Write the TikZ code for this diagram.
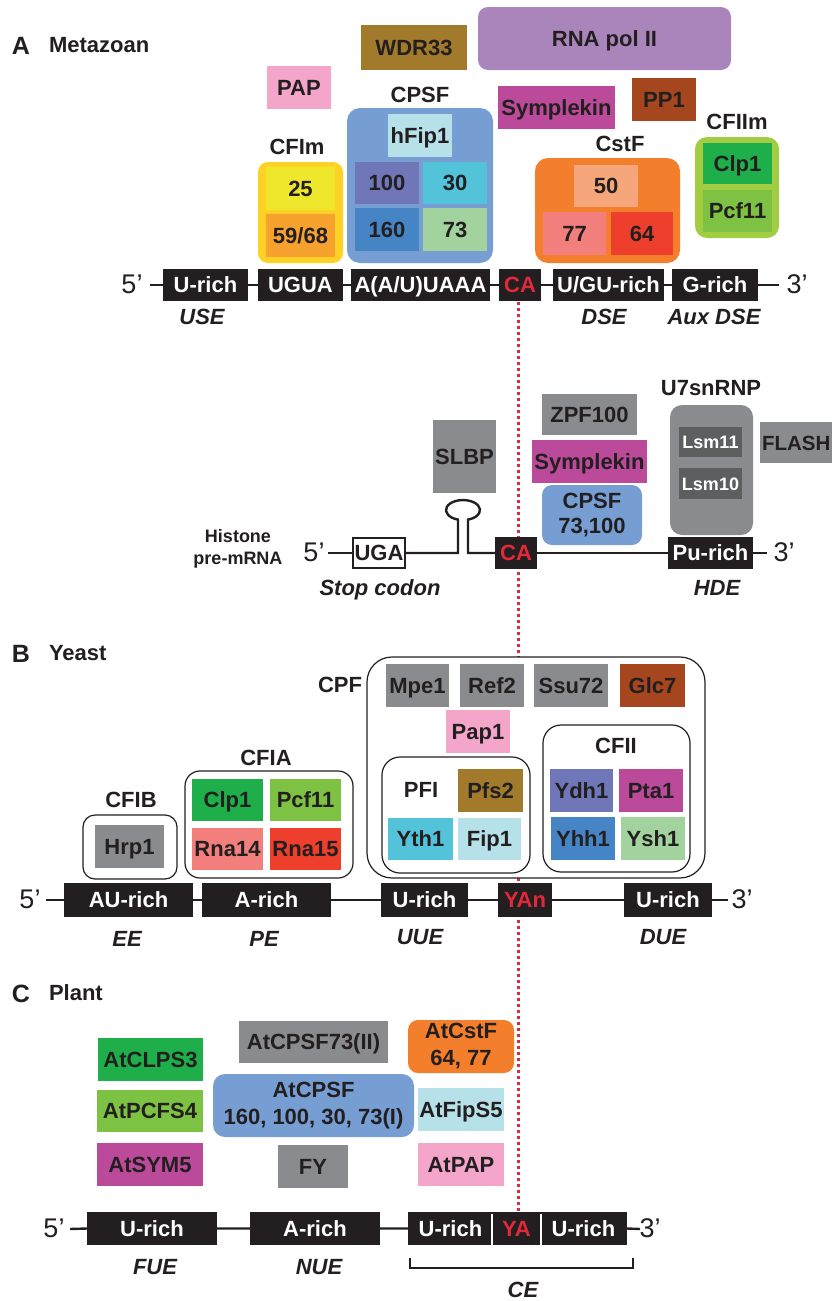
\documentclass[tikz,border=0pt]{standalone}
\usepackage{fontspec}
\setmainfont{Liberation Sans}
\definecolor{ink}{HTML}{231F20}
\definecolor{cRed}{HTML}{E2283A}
\definecolor{cGray}{HTML}{8A8B8E}
\definecolor{cDGray}{HTML}{5D5E60}
\definecolor{cWDR}{HTML}{A27A2C}
\definecolor{cPol}{HTML}{AA85BB}
\definecolor{cPAP}{HTML}{F4A6CA}
\definecolor{cSym}{HTML}{BB4A9A}
\definecolor{cPP}{HTML}{A5461F}
\definecolor{cBlue}{HTML}{769ED3}
\definecolor{cFip}{HTML}{B7E1E8}
\definecolor{cHund}{HTML}{7077B9}
\definecolor{cThirty}{HTML}{53C3D9}
\definecolor{cOneSixty}{HTML}{4585C6}
\definecolor{cSeventy}{HTML}{A2D39E}
\definecolor{cYel}{HTML}{FDD125}
\definecolor{cTwentyFive}{HTML}{EEE72B}
\definecolor{cFiftyNine}{HTML}{F7A12F}
\definecolor{cOr}{HTML}{F37F2C}
\definecolor{cFifty}{HTML}{F5A67B}
\definecolor{cSalmon}{HTML}{F27F7B}
\definecolor{cRedBox}{HTML}{EE3F2C}
\definecolor{cLime}{HTML}{A2CD42}
\definecolor{cClp}{HTML}{1EAF4B}
\definecolor{cPcf}{HTML}{7EC243}
\newcommand\mybox[7]{%
  \pgfmathsetmacro\mbw{#4-#2}\pgfmathsetmacro\mbh{#5-#3}%
  \node[#6,minimum width=\mbw pt,minimum height=\mbh pt] (#1) at ({(#2+#4)/2},{(#3+#5)/2}) {#7};}
\begin{document}
\begin{tikzpicture}[x=1pt,y=-1pt,
  base/.style={font=\bfseries\fontsize{22}{25}\selectfont,text=ink,inner sep=0pt,outer sep=0pt},
  capt/.style={base,text height=15.5pt,text depth=0pt},
  bx/.style={capt,rectangle},
  small/.style={font=\bfseries\fontsize{18}{22}\selectfont},
  sq/.style={bx,fill=ink,text=white},
  cont/.style={rectangle,inner sep=0pt,outer sep=0pt},
  frame/.style={cont,fill=white,draw=ink,line width=1.2pt},
  itl/.style={capt,font=\bfseries\itshape\fontsize{22}{25}\selectfont},
  prime/.style={font=\fontsize{27}{30}\selectfont,text=ink,inner sep=0pt,text height=19.5pt,text depth=0pt},
  head/.style={capt,anchor=west},
  letter/.style={capt,anchor=west,font=\bfseries\fontsize{25}{28}\selectfont,text height=18pt},
  seq/.style={draw=ink,line width=2.4pt},
  reddot/.style={draw=cRed,line width=3pt,dash pattern=on 3pt off 3pt},
  sep/.style={draw=white,line width=1.6pt}]
\useasboundingbox (0,0) rectangle (832,1301);
\clip (0,0) rectangle (832,1301);
\fill[white] (0,0) rectangle (832,1301);

% red dotted cleavage line
\coordinate (dtop) at (518,302);
\coordinate (dbot) at (518,1212);
\draw[reddot] (dtop) -- (dbot);

% ================= A Metazoan =================
\node[letter] (lA) at (12,45) {A};
\node[head] (hA) at (49,45) {Metazoan};

\mybox{wdr}{361}{25}{467}{70}{bx,fill=cWDR}{WDR33}
\mybox{pol}{478}{7}{731}{70}{bx,fill=cPol,rounded corners=10pt}{RNA pol II}
\mybox{pap}{267}{66}{331}{109}{bx,fill=cPAP}{PAP}
\mybox{symA}{498}{86}{615}{129}{bx,fill=cSym}{Symplekin}
\mybox{pp}{632}{78}{696}{121}{bx,fill=cPP}{PP1}

\node[capt] (cpsfl) at (420,95) {CPSF};
\mybox{cpsf}{347}{108}{493}{263}{cont,fill=cBlue,rounded corners=13pt}{}
\mybox{hfip}{388}{114}{452}{157}{bx,fill=cFip}{hFip1}
\mybox{cA}{355}{162}{419}{204}{bx,fill=cHund}{100}
\mybox{cB}{423}{162}{487}{204}{bx,fill=cThirty}{30}
\mybox{cC}{355}{208}{419}{251}{bx,fill=cOneSixty}{160}
\mybox{cD}{423}{208}{487}{251}{bx,fill=cSeventy}{73}

\node[capt] (cfiml) at (297,147) {CFIm};
\mybox{cfim}{258}{162}{343}{263}{cont,fill=cYel,rounded corners=10pt}{}
\mybox{cE}{266}{167}{335}{210}{bx,fill=cTwentyFive}{25}
\mybox{cF}{266}{214}{335}{257}{bx,fill=cFiftyNine}{59/68}

\node[capt] (cstfl) at (620,144) {CstF};
\mybox{cstf}{535}{158}{680}{263}{cont,fill=cOr,rounded corners=13pt}{}
\mybox{cG}{574}{165}{638}{207}{bx,fill=cFifty}{50}
\mybox{cH}{543}{212}{606}{255}{bx,fill=cSalmon}{77}
\mybox{cI}{611}{212}{673}{255}{bx,fill=cRedBox}{64}

\node[capt] (cfiiml) at (737,122) {CFIIm};
\mybox{cfiim}{695}{137}{779}{238}{cont,fill=cLime,rounded corners=12pt}{}
\mybox{clpA}{703}{143}{772}{184}{bx,fill=cClp}{Clp1}
\mybox{pcfA}{703}{190}{772}{232}{bx,fill=cPcf}{Pcf11}

\node[prime] (a5) at (132,284) {5’};
\node[prime] (a3) at (797,284) {3’};
\coordinate (a5e) at (150,285);
\coordinate (a3e) at (779,285);
\mybox{aU}{163}{269}{248}{301}{sq}{U-rich}
\mybox{aUGUA}{258}{269}{343}{301}{sq}{UGUA}
\mybox{aAAU}{351}{269}{490}{301}{sq}{A(A/U)UAAA}
\mybox{aCA}{499}{269}{541}{301}{sq,text=cRed}{CA}
\mybox{aUGU}{553}{269}{664}{301}{sq}{U/GU-rich}
\mybox{aG}{672}{269}{758}{301}{sq}{G-rich}
\draw[seq] (a5e) -- (aU.west) (aU.east) -- (aUGUA.west) (aUGUA.east) -- (aAAU.west)
  (aAAU.east) -- (aCA.west) (aCA.east) -- (aUGU.west) (aUGU.east) -- (aG.west) (aG.east) -- (a3e);
\node[itl] (use) at (202,317) {USE};
\node[itl] (dse) at (604,317) {DSE};
\node[itl] (adse) at (714,317) {Aux DSE};

% ================= Histone =================
\node[capt] (u7l) at (711,388) {U7snRNP};
\mybox{zpf}{542}{394}{637}{435}{bx,fill=cGray}{ZPF100}
\mybox{symH}{532}{440}{647}{483}{bx,fill=cSym}{Symplekin}
\mybox{cpsfH}{542}{485}{642}{545}{base,fill=cBlue,rounded corners=10pt,align=center,font=\bfseries\fontsize{22}{25}\selectfont}{CPSF\\73,100}
\mybox{slbp}{433}{420}{496}{493}{bx,fill=cGray}{SLBP}
\mybox{u7}{670}{405}{753}{535}{cont,fill=cGray,rounded corners=12pt}{}
\mybox{lsmA}{679}{427}{742}{457}{bx,small,fill=cDGray,text=white,text height=13pt}{Lsm11}
\mybox{lsmB}{679}{468}{742}{499}{bx,small,fill=cDGray,text=white,text height=13pt}{Lsm10}
\mybox{flash}{760}{422}{840}{463}{cont,fill=cGray}{}
\node[capt,anchor=west,font=\bfseries\fontsize{20.5}{24}\selectfont] (flasht) at (762,442.5) {FLASH};

\node[base,small,align=center] (hist) at (238,549) {Histone\\pre-mRNA};
\node[prime] (h5) at (314,552) {5’};
\node[prime] (h3) at (784,552) {3’};
\coordinate (h5e) at (328,553);
\coordinate (h3e) at (767,553);
\mybox{uga}{353}{538}{405}{568}{bx,fill=white,draw=ink,line width=1.3pt}{UGA}
\mybox{caH}{495}{537}{537}{569}{sq,text=cRed}{CA}
\mybox{pu}{668}{537}{753}{569}{sq}{Pu-rich}
\coordinate (stL) at (458,553);
\coordinate (stLt) at (458,519.6);
\coordinate (stR) at (468,553);
\draw[seq] (h5e) -- (uga.west);
\draw[seq] (uga.east) -- (stL) -- (stLt) arc[start angle=252.9,end angle=-72.9,x radius=17pt,y radius=10pt] -- (stR) -- (caH.west);
\draw[seq] (caH.east) -- (pu.west) (pu.east) -- (h3e);
\node[itl] (stop) at (380,588) {Stop codon};
\node[itl] (hde) at (717,588) {HDE};

% ================= B Yeast =================
\node[letter] (lB) at (12,653) {B};
\node[head] (hB) at (49,653) {Yeast};

\node[capt] (cpfl) at (340,685) {CPF};
\mybox{cpf}{367}{657}{705}{878}{frame,rounded corners=25pt}{}
\mybox{mpe}{386}{664}{449}{707}{bx,fill=cGray}{Mpe1}
\mybox{ref}{460}{664}{524}{707}{bx,fill=cGray}{Ref2}
\mybox{ssu}{534}{664}{608}{707}{bx,fill=cGray}{Ssu72}
\mybox{glc}{620}{664}{685}{707}{bx,fill=cPP}{Glc7}
\mybox{papB}{446}{710}{510}{753}{bx,fill=cPAP}{Pap1}
\mybox{pfi}{382}{757}{530}{873}{frame,rounded corners=18pt}{}
\node[capt] (pfil) at (421,790) {PFI};
\mybox{pfs}{458}{769}{523}{812}{bx,fill=cWDR}{Pfs2}
\mybox{yth}{388}{818}{453}{860}{bx,fill=cThirty}{Yth1}
\mybox{fipB}{458}{818}{521}{860}{bx,fill=cFip}{Fip1}
\mybox{cfii}{543}{725}{690}{872}{frame,rounded corners=18pt}{}
\node[capt] (cfiil) at (616,746) {CFII};
\mybox{ydh}{550}{769}{613}{812}{bx,fill=cHund}{Ydh1}
\mybox{pta}{619}{769}{683}{812}{bx,fill=cSym}{Pta1}
\mybox{yhh}{551}{817}{615}{860}{bx,fill=cOneSixty}{Yhh1}
\mybox{ysh}{621}{817}{685}{860}{bx,fill=cSeventy}{Ysh1}

\node[capt] (cfial) at (266,758) {CFIA};
\mybox{cfia}{185}{771}{353}{878}{frame,rounded corners=15pt}{}
\mybox{clpB}{192}{779}{263}{821}{bx,fill=cClp}{Clp1}
\mybox{pcfB}{270}{779}{341}{821}{bx,fill=cPcf}{Pcf11}
\mybox{rna14}{192}{828}{263}{870}{bx,fill=cSalmon}{Rna14}
\mybox{rna15}{270}{828}{341}{870}{bx,fill=cRedBox}{Rna15}

\node[capt] (cfibl) at (131,800) {CFIB};
\mybox{cfib}{83}{815}{177}{879}{frame,rounded corners=12pt}{}
\mybox{hrp}{95}{825}{164}{868}{bx,fill=cGray}{Hrp1}

\node[prime] (b5) at (30,899) {5’};
\node[prime] (b3) at (742,899) {3’};
\coordinate (b5e) at (46,900);
\coordinate (b3e) at (728,900);
\mybox{bAU}{64}{883}{193}{917}{sq}{AU-rich}
\mybox{bA}{202}{883}{331}{917}{sq}{A-rich}
\mybox{bU}{381}{883}{468}{917}{sq}{U-rich}
\mybox{bYA}{498}{883}{552}{917}{sq,text=cRed}{YAn}
\mybox{bU2}{624}{883}{712}{917}{sq}{U-rich}
\draw[seq] (b5e) -- (bAU.west) (bAU.east) -- (bA.west) (bA.east) -- (bU.west)
  (bU.east) -- (bYA.west) (bYA.east) -- (bU2.west) (bU2.east) -- (b3e);
\node[itl] (ee) at (127,939) {EE};
\node[itl] (pe) at (264,939) {PE};
\node[itl] (uue) at (420,937) {UUE};
\node[itl] (due) at (663,937) {DUE};

% ================= C Plant =================
\node[letter] (lC) at (12,993) {C};
\node[head] (hC) at (49,993) {Plant};

\mybox{clps}{98}{1038}{203}{1081}{bx,fill=cClp}{AtCLPS3}
\mybox{pcfs}{97}{1090}{203}{1132}{bx,fill=cPcf}{AtPCFS4}
\mybox{sym5}{97}{1143}{203}{1186}{bx,fill=cSym}{AtSYM5}
\mybox{cpsfII}{239}{1021}{388}{1063}{bx,fill=cGray}{AtCPSF73(II)}
\mybox{cpsfP}{213}{1074}{414}{1137}{base,fill=cBlue,rounded corners=12pt,align=center,font=\bfseries\fontsize{22}{27}\selectfont}{AtCPSF\\160, 100, 30, 73(I)}
\mybox{fy}{278}{1145}{348}{1188}{bx,fill=cGray}{FY}
\mybox{cstfP}{408}{1020}{514}{1073}{base,fill=cOr,rounded corners=10pt,align=center,font=\bfseries\fontsize{22}{27}\selectfont}{AtCstF\\64, 77}
\mybox{fips}{418}{1088}{504}{1131}{bx,fill=cFip}{AtFipS5}
\mybox{papC}{418}{1143}{504}{1186}{bx,fill=cPAP}{AtPAP}

\node[prime] (c5) at (54,1228) {5’};
\node[prime] (c3) at (650,1228) {3’};
\coordinate (c5e) at (70,1229);
\coordinate (c3e) at (640,1229);
\mybox{cU}{87}{1212}{217}{1245}{sq}{U-rich}
\mybox{cAr}{250}{1212}{380}{1245}{sq}{A-rich}
\mybox{cU2}{408}{1212}{493}{1245}{sq}{U-rich}
\mybox{cYA}{492}{1212}{541}{1245}{sq,text=cRed}{YA}
\mybox{cU3}{540}{1212}{627}{1245}{sq}{U-rich}
\draw[seq] (c5e) -- (cU.west) (cU.east) -- (cAr.west) (cAr.east) -- (cU2.west) (cU3.east) -- (c3e);
\draw[sep] ([yshift=-1.5pt]cYA.north west) -- (cYA.south west);
\draw[sep] ([yshift=-1.5pt]cYA.north east) -- (cYA.south east);
\node[itl] (fue) at (155,1267) {FUE};
\node[itl] (nue) at (319,1267) {NUE};
\coordinate (brA) at (410,1258);
\coordinate (brB) at (410,1268);
\coordinate (brC) at (633,1268);
\coordinate (brD) at (633,1258);
\draw[ink,line width=1.2pt] (brA) -- (brB) -- (brC) -- (brD);
\node[itl] (ce) at (523,1290) {CE};
\end{tikzpicture}
\end{document}
